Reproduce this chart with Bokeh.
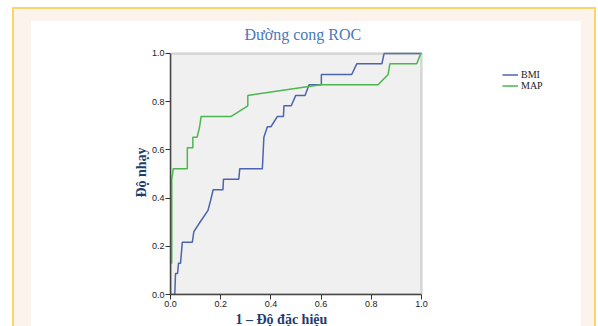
from bokeh.plotting import figure
from bokeh.models import (Range1d, FixedTicker, Title, Legend, LegendItem, BoxAnnotation)
from bokeh.embed import file_html
from bokeh.resources import INLINE

# ---- data ----
bmi_fpr = [0, 0.017, 0.02, 0.028, 0.032, 0.04, 0.047, 0.087, 0.093, 0.12, 0.149, 0.16,
           0.17, 0.209, 0.211, 0.272, 0.276, 0.366, 0.372, 0.386, 0.40, 0.426, 0.45,
           0.452, 0.481, 0.499, 0.536, 0.552, 0.601, 0.601, 0.722, 0.742, 0.842, 0.851, 1.0]
bmi_tpr = [0, 0, 0.087, 0.087, 0.13, 0.13, 0.217, 0.217, 0.261, 0.304, 0.348, 0.391,
           0.435, 0.435, 0.478, 0.478, 0.522, 0.522, 0.652, 0.696, 0.696, 0.739, 0.739,
           0.783, 0.783, 0.826, 0.826, 0.87, 0.87, 0.913, 0.913, 0.957, 0.957, 1.0, 1.0]

map_fpr = [0, 0, 0.005, 0.005, 0.011, 0.067, 0.067, 0.089, 0.089, 0.106, 0.116, 0.122,
           0.242, 0.308, 0.308, 0.598, 0.827, 0.867, 0.874, 0.981, 0.997, 1.0]
map_tpr = [0, 0.13, 0.13, 0.478, 0.522, 0.522, 0.609, 0.609, 0.652, 0.652, 0.696, 0.739,
           0.739, 0.783, 0.826, 0.87, 0.87, 0.913, 0.957, 0.957, 1.0, 1.0]

tick_values = [0.0, 0.2, 0.4, 0.6, 0.8, 1.0]
tick_labels = ["0.0", "0.2", "0.4", "0.6", "0.8", "1.0"]

series_names = ["BMI", "MAP"]
title_text = "Đường cong ROC"
x_label = "1 – Độ đặc hiệu"
y_label = "Độ nhạy"

# ---- styling ----
BLUE = "#4c64ae"
GREEN = "#4cb74e"
LABEL_COLOR = "#1f3d70"
SERIF = "Liberation Serif"
SANS = "Liberation Sans"
YEL = "#fbd46a"
PEACH = "#fdf3ed"
PLOT_BG = "#eff0ef"
EDGE = "#8c8c8c"

W, H = 596, 326
page_styles = {
    "background-image": ("linear-gradient(#ffffff,#ffffff), "
                         f"linear-gradient({PEACH},{PEACH}), "
                         f"linear-gradient({YEL},{YEL})"),
    "background-position": "31px 21px, 14px 9px, 12px 7px",
    "background-size": "550px 305px, 580px 317px, 584px 319px",
    "background-repeat": "no-repeat",
}

# the frame is widened to the right so the legend can sit inside it;
# the visible plot box covers 0..1 on both axes (251 x 242 px)
X_END = 405 / 251
Y_END = 245 / 242

p = figure(width=W, height=H, output_backend="svg", toolbar_location=None,
           x_range=Range1d(0, X_END), y_range=Range1d(0, Y_END),
           min_border_left=170, min_border_right=21, min_border_top=50,
           min_border_bottom=31, styles=page_styles)

p.border_fill_alpha = 0
p.background_fill_alpha = 0
p.outline_line_color = None
p.grid.visible = False

# plot box: fill beneath the curves, edge above them
p.add_layout(BoxAnnotation(left=0, right=1, bottom=0, top=1, fill_color=PLOT_BG,
                           fill_alpha=1, line_color=None, level="underlay"))
p.add_layout(BoxAnnotation(left=0, right=1, bottom=0, top=1, fill_color=None,
                           fill_alpha=0, line_color=EDGE, line_width=2.5,
                           level="overlay"))

# title
p.title.text = title_text
p.title.text_font = SERIF
p.title.text_font_size = "16px"
p.title.text_font_style = "normal"
p.title.text_color = "#4a78b8"
p.title.align = "left"
p.title.offset = 74
p.title.standoff = 16

# axes
for ax in (p.xaxis[0], p.yaxis[0]):
    ax.ticker = FixedTicker(ticks=tick_values)
    ax.major_label_overrides = {v: s for v, s in zip(tick_values, tick_labels)}
    ax.bounds = (0, 1)
    ax.minor_tick_line_color = None
    ax.major_tick_in = 0
    ax.major_tick_out = 5
    ax.major_tick_line_color = "#333333"
    ax.axis_line_color = "#3a3a3a"
    ax.axis_line_width = 1.5
    ax.major_label_text_font = SANS
    ax.major_label_text_font_size = "9px"
    ax.major_label_text_color = "#222222"
    ax.major_label_standoff = 1
    ax.level = "overlay"

p.yaxis[0].axis_label = y_label
p.yaxis[0].axis_label_text_font = SERIF
p.yaxis[0].axis_label_text_font_style = "bold"
p.yaxis[0].axis_label_text_font_size = "14px"
p.yaxis[0].axis_label_text_color = LABEL_COLOR
p.yaxis[0].axis_label_standoff = 0

p.add_layout(Title(text=x_label, align="left", offset=65, standoff=0,
                   text_font=SERIF, text_font_style="bold", text_font_size="14px",
                   text_color=LABEL_COLOR), "below")

# curves
r_bmi = p.line(bmi_fpr, bmi_tpr, line_color=BLUE, line_width=1.5)
r_map = p.line(map_fpr, map_tpr, line_color=GREEN, line_width=1.5)

legend = Legend(items=[LegendItem(label=series_names[0], renderers=[r_bmi]),
                       LegendItem(label=series_names[1], renderers=[r_map])],
                location=(332, 203), orientation="vertical",
                border_line_alpha=0, background_fill_alpha=0,
                padding=0, margin=0, spacing=0,
                glyph_width=16, glyph_height=11, label_height=11,
                label_standoff=3, label_text_font=SERIF,
                label_text_font_size="10px", label_text_color="#222222")
p.add_layout(legend)

open("out.html", "w").write(file_html(p, INLINE))
